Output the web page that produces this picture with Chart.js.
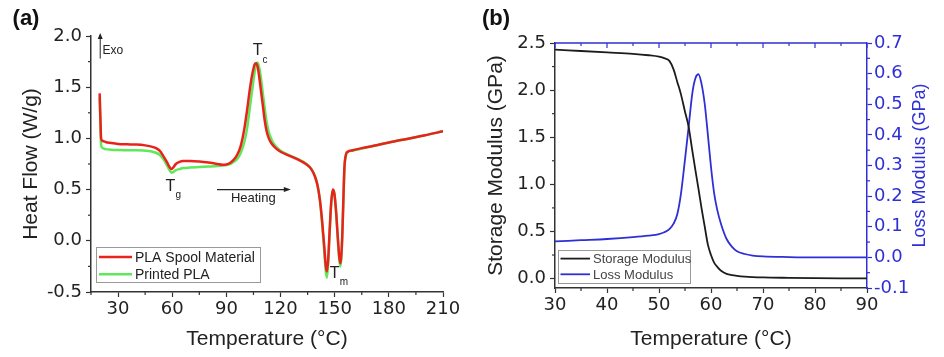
<!DOCTYPE html>
<html>
<head>
<meta charset="utf-8">
<script src="https://cdn.jsdelivr.net/npm/chart.js@4.4.0/dist/chart.umd.min.js"></script>
<style>
  html, body { margin: 0; padding: 0; background: #fff; }
  #painel { position: relative; width: 944px; height: 357px; }
  #caixaA { position: absolute; left: 0; top: 0; width: 470px; height: 357px; }
  #caixaB { position: absolute; left: 470px; top: 0; width: 474px; height: 357px; }
</style>
</head>
<body>
<div id="painel">
  <div id="caixaA"><canvas id="graficoDSC" width="470" height="357"></canvas></div>
  <div id="caixaB"><canvas id="graficoDMA" width="474" height="357"></canvas></div>
</div>
<script>
// ---- dados ----
// (a) DSC
const dscTemp = [19.8, 20.2, 20.6, 21.5, 23, 26, 30, 35, 40, 45, 48, 51, 53, 55, 57, 58.5, 59.6, 60.5, 62, 64, 66, 70, 75, 80, 85, 88, 90, 92, 94, 96, 98, 100, 101.5, 103, 104.5, 105.6, 106.4, 107.3, 108.2, 109.2, 110.2, 111.2, 112.3, 113.5, 115, 117, 120, 125, 130, 134, 137, 139, 140.5, 141.8, 143, 144.2, 145.1, 145.7, 146.4, 147.2, 148.1, 149, 149.9, 150.8, 151.7, 152.5, 153.1, 153.6, 154.2, 154.8, 155.4, 156.2, 157.2, 160, 165, 170, 180, 190, 200, 210];
const spoolFlow = [1.44, 1.2, 1.0, 0.975, 0.965, 0.955, 0.945, 0.942, 0.94, 0.932, 0.922, 0.905, 0.88, 0.83, 0.77, 0.72, 0.70, 0.715, 0.75, 0.77, 0.78, 0.78, 0.775, 0.765, 0.75, 0.742, 0.745, 0.76, 0.79, 0.84, 0.93, 1.1, 1.28, 1.48, 1.64, 1.72, 1.735, 1.70, 1.60, 1.46, 1.32, 1.18, 1.07, 1.0, 0.95, 0.91, 0.87, 0.83, 0.79, 0.75, 0.70, 0.63, 0.54, 0.40, 0.20, -0.05, -0.25, -0.30, -0.18, 0.10, 0.38, 0.50, 0.45, 0.28, 0.04, -0.15, -0.22, -0.16, 0.05, 0.40, 0.72, 0.84, 0.87, 0.885, 0.905, 0.92, 0.96, 0.995, 1.03, 1.07];
const printedFlow = [1.40, 1.15, 0.93, 0.905, 0.895, 0.89, 0.887, 0.885, 0.885, 0.88, 0.875, 0.86, 0.84, 0.80, 0.74, 0.69, 0.665, 0.67, 0.69, 0.70, 0.71, 0.715, 0.72, 0.725, 0.73, 0.735, 0.74, 0.75, 0.77, 0.80, 0.86, 0.97, 1.10, 1.30, 1.50, 1.64, 1.72, 1.74, 1.69, 1.58, 1.44, 1.30, 1.16, 1.06, 0.99, 0.93, 0.88, 0.835, 0.795, 0.755, 0.705, 0.635, 0.54, 0.40, 0.18, -0.10, -0.30, -0.36, -0.22, 0.08, 0.37, 0.50, 0.45, 0.27, 0.02, -0.18, -0.25, -0.18, 0.04, 0.38, 0.70, 0.83, 0.865, 0.88, 0.90, 0.92, 0.96, 0.995, 1.03, 1.07];
const dscXLabels = [30, 60, 90, 120, 150, 180, 210];
const dscYLabels = [-0.5, 0.0, 0.5, 1.0, 1.5, 2.0];

// (b) DMA
const dmaTemp = [30, 35, 40, 45, 48, 50, 51, 52, 52.8, 53.5, 54.2, 55, 55.7, 56.4, 57, 57.6, 58.2, 58.8, 59.4, 60, 60.6, 61.2, 62, 63, 64, 65, 66.5, 68, 70, 75, 80, 85, 90];
const storageMod = [2.43, 2.415, 2.40, 2.385, 2.37, 2.355, 2.34, 2.31, 2.22, 2.09, 1.96, 1.77, 1.61, 1.36, 1.15, 0.95, 0.74, 0.55, 0.36, 0.25, 0.17, 0.125, 0.08, 0.05, 0.037, 0.029, 0.021, 0.016, 0.012, 0.008, 0.005, 0.003, 0.002];
const lossMod = [0.052, 0.056, 0.06, 0.066, 0.071, 0.076, 0.082, 0.092, 0.11, 0.14, 0.205, 0.32, 0.426, 0.535, 0.585, 0.598, 0.565, 0.50, 0.40, 0.295, 0.21, 0.155, 0.105, 0.06, 0.035, 0.02, 0.011, 0.006, 0.003, 0.001, 0.0, 0.0, 0.0];
const dmaXLabels = [30, 40, 50, 60, 70, 80, 90];
const storageLabels = [0.0, 0.5, 1.0, 1.5, 2.0, 2.5];
const lossLabels = [-0.1, 0.0, 0.1, 0.2, 0.3, 0.4, 0.5, 0.6, 0.7];

const FONTE = '"Liberation Sans", Arial, sans-serif';
const FONTE_TICKS = '"DejaVu Sans", sans-serif';
const TEXTO = '#222';
const AZUL = '#2f2fd6';
Chart.defaults.font.family = FONTE;

function rotulo(v, lista, casas) {
    const achado = lista.find(t => Math.abs(t - v) < 1e-6);
    return achado === undefined ? '' : achado.toFixed(casas);
}
function corTick(cor) {
    return c => (c.tick && c.tick.label !== '') ? cor : 'rgba(0,0,0,0)';
}
function pares(xs, ys) {
    return xs.map((x, i) => ({ x: x, y: ys[i] }));
}
const fonteTicks = { family: FONTE_TICKS, size: 18 };

// marcas menores (mais curtas) nos eixos
const marcasMenores = {
    id: 'marcasMenores',
    afterDraw(chart, args, opts) {
        const ctx = chart.ctx;
        Object.values(chart.scales).forEach(s => {
            const cor = opts.cores && opts.cores[s.id];
            if (!cor) return;
            ctx.save();
            ctx.strokeStyle = cor;
            ctx.lineWidth = 1.2;
            s.ticks.forEach(t => {
                if (t.label !== '') return;
                const p = s.getPixelForValue(t.value);
                ctx.beginPath();
                if (s.position === 'bottom') { ctx.moveTo(p, s.top); ctx.lineTo(p, s.top + 3); }
                else if (s.position === 'left') { ctx.moveTo(s.right, p); ctx.lineTo(s.right - 3, p); }
                else { ctx.moveTo(s.left, p); ctx.lineTo(s.left + 3, p); }
                ctx.stroke();
            });
            ctx.restore();
        });
    }
};

// legenda em caixa dentro da area do grafico (canto inferior esquerdo)
function legendaCaixa(cfg) {
    return {
        id: 'legendaCaixa',
        afterDraw(chart) {
            const { ctx, chartArea } = chart;
            const x0 = chartArea.left + cfg.dx;
            const y0 = chartArea.bottom - cfg.dy - cfg.h;
            ctx.save();
            ctx.fillStyle = '#fff';
            ctx.fillRect(x0, y0, cfg.w, cfg.h);
            ctx.strokeStyle = '#999';
            ctx.lineWidth = 1;
            ctx.strokeRect(x0 + 0.5, y0 + 0.5, cfg.w, cfg.h);
            ctx.font = cfg.fonte + 'px ' + FONTE;
            ctx.textBaseline = 'middle';
            chart.data.datasets.forEach((d, i) => {
                const yy = y0 + cfg.linha0 + i * cfg.passo;
                ctx.strokeStyle = d.borderColor;
                ctx.lineWidth = d.borderWidth;
                ctx.beginPath();
                ctx.moveTo(x0 + cfg.l0, yy);
                ctx.lineTo(x0 + cfg.l1, yy);
                ctx.stroke();
                ctx.fillStyle = cfg.corTexto;
                ctx.fillText(d.label, x0 + cfg.tx, yy + 1);
            });
            ctx.restore();
        }
    };
}

function letraPainel(txt) {
    return {
        id: 'letraPainel',
        afterDraw(chart) {
            const ctx = chart.ctx;
            ctx.save();
            ctx.font = 'bold 22px ' + FONTE;
            ctx.fillStyle = '#111';
            ctx.textAlign = 'center';
            ctx.textBaseline = 'middle';
            ctx.fillText(txt, 26, 19);
            ctx.restore();
        }
    };
}

// anotacoes do DSC (posicoes em unidades dos eixos)
const notasDSC = {
    id: 'notasDSC',
    afterDraw(chart) {
        const { ctx, scales: { x, y } } = chart;
        ctx.save();
        ctx.fillStyle = TEXTO;
        ctx.strokeStyle = TEXTO;
        ctx.lineWidth = 1;

        // seta Exo
        const ex = x.getPixelForValue(20.1);
        const eTopo = y.getPixelForValue(2.03);
        ctx.beginPath();
        ctx.moveTo(ex, y.getPixelForValue(1.78));
        ctx.lineTo(ex, eTopo + 3);
        ctx.stroke();
        ctx.beginPath();
        ctx.moveTo(ex, eTopo);
        ctx.lineTo(ex - 2.5, eTopo + 6);
        ctx.lineTo(ex + 2.5, eTopo + 6);
        ctx.closePath();
        ctx.fill();
        ctx.font = '12px ' + FONTE;
        ctx.textBaseline = 'middle';
        ctx.fillText('Exo', x.getPixelForValue(21.4), y.getPixelForValue(1.86));

        // T com subscrito
        const tSub = (sub, tv, hv) => {
            const cx = x.getPixelForValue(tv);
            const cy = y.getPixelForValue(hv);
            ctx.font = '16px ' + FONTE;
            ctx.textAlign = 'center';
            ctx.textBaseline = 'middle';
            ctx.fillText('T', cx, cy);
            ctx.font = '10px ' + FONTE;
            ctx.textAlign = 'left';
            ctx.fillText(sub, cx + 5, cy + 9);
        };
        tSub('c', 107.3, 1.855);
        tSub('g', 59.0, 0.53);
        tSub('m', 150.0, -0.32);

        // seta Heating
        const h0 = x.getPixelForValue(84.8);
        const h1 = x.getPixelForValue(125.7);
        const hy = y.getPixelForValue(0.50);
        ctx.lineWidth = 1.2;
        ctx.beginPath();
        ctx.moveTo(h0, hy);
        ctx.lineTo(h1 - 5, hy);
        ctx.stroke();
        ctx.beginPath();
        ctx.moveTo(h1, hy);
        ctx.lineTo(h1 - 7, hy - 2.5);
        ctx.lineTo(h1 - 7, hy + 2.5);
        ctx.closePath();
        ctx.fill();
        ctx.font = '13px ' + FONTE;
        ctx.textAlign = 'center';
        ctx.fillText('Heating', x.getPixelForValue(104.9), y.getPixelForValue(0.41));
        ctx.restore();
    }
};

// moldura superior azul e titulo do eixo direito do DMA
const extrasDMA = {
    id: 'extrasDMA',
    afterDraw(chart) {
        const { ctx, chartArea, scales: { x } } = chart;
        ctx.save();
        ctx.strokeStyle = AZUL;
        ctx.lineWidth = 1.5;
        ctx.beginPath();
        ctx.moveTo(chartArea.left, chartArea.top);
        ctx.lineTo(chartArea.right, chartArea.top);
        ctx.stroke();
        ctx.lineWidth = 1.2;
        x.ticks.forEach(t => {
            const p = x.getPixelForValue(t.value);
            ctx.beginPath();
            ctx.moveTo(p, chartArea.top);
            ctx.lineTo(p, chartArea.top + (t.label !== '' ? 5 : 3));
            ctx.stroke();
        });
        ctx.translate(chart.width - 24, (chartArea.top + chartArea.bottom) / 2);
        ctx.rotate(-Math.PI / 2);
        ctx.font = '18px ' + FONTE;
        ctx.fillStyle = AZUL;
        ctx.textAlign = 'center';
        ctx.textBaseline = 'middle';
        ctx.fillText('Loss Modulus (GPa)', 0, 0);
        ctx.restore();
    }
};

// ---- grafico (a) ----
const ctxDSC = document.getElementById('graficoDSC').getContext('2d');
const graficoDSC = new Chart(ctxDSC, {
    type: 'line',
    data: {
        datasets: [{
            label: 'PLA Spool Material',
            data: pares(dscTemp, spoolFlow),
            borderColor: '#e8231c',
            borderWidth: 2.5,
            pointRadius: 0,
            cubicInterpolationMode: 'monotone'
        }, {
            label: 'Printed PLA',
            data: pares(dscTemp, printedFlow),
            borderColor: '#5fe85a',
            borderWidth: 2.5,
            pointRadius: 0,
            cubicInterpolationMode: 'monotone'
        }]
    },
    options: {
        responsive: false,
        animation: false,
        layout: { padding: { left: 0, top: 36, right: 27, bottom: 0 } },
        plugins: {
            legend: { display: false },
            tooltip: { enabled: false },
            marcasMenores: { cores: { x: '#333', y: '#333' } }
        },
        scales: {
            x: {
                type: 'linear', min: 15, max: 210,
                afterFit: s => { s.height = 65; },
                grid: { drawOnChartArea: false, tickLength: 5, tickWidth: 1.2, tickColor: corTick('#333') },
                border: { color: '#333', width: 1.5 },
                ticks: { stepSize: 15, autoSkip: false, maxRotation: 0, padding: 2, color: TEXTO, font: fonteTicks,
                    callback: v => rotulo(v, dscXLabels, 0) },
                title: { display: true, text: 'Temperature (°C)', color: TEXTO, font: { size: 21 }, padding: { top: 0, bottom: 5 } }
            },
            y: {
                min: -0.5, max: 2.0,
                afterFit: s => { s.width = 91; },
                grid: { drawOnChartArea: false, tickLength: 5, tickWidth: 1.2, tickColor: corTick('#333') },
                border: { color: '#333', width: 1.5 },
                ticks: { stepSize: 0.25, autoSkip: false, padding: 4, color: TEXTO, font: fonteTicks,
                    callback: v => rotulo(v, dscYLabels, 1) },
                title: { display: true, text: 'Heat Flow (W/g)', color: TEXTO, font: { size: 21 }, padding: { top: 19, bottom: 0 } }
            }
        }
    },
    plugins: [marcasMenores, notasDSC, letraPainel('(a)'), legendaCaixa({
        dx: 5, dy: 10, w: 164, h: 35, l0: 3, l1: 36, tx: 39, linha0: 10, passo: 17.3, fonte: 14, corTexto: TEXTO
    })]
});

// ---- grafico (b) ----
const ctxDMA = document.getElementById('graficoDMA').getContext('2d');
const graficoDMA = new Chart(ctxDMA, {
    type: 'line',
    data: {
        datasets: [{
            label: 'Storage Modulus',
            data: pares(dmaTemp, storageMod),
            borderColor: '#1c1c1c',
            borderWidth: 1.8,
            pointRadius: 0,
            cubicInterpolationMode: 'monotone',
            yAxisID: 'y'
        }, {
            label: 'Loss Modulus',
            data: pares(dmaTemp, lossMod),
            borderColor: AZUL,
            borderWidth: 1.8,
            pointRadius: 0,
            cubicInterpolationMode: 'monotone',
            yAxisID: 'y1'
        }]
    },
    options: {
        responsive: false,
        animation: false,
        layout: { padding: { left: 0, top: 43, right: 0, bottom: 0 } },
        plugins: {
            legend: { display: false },
            tooltip: { enabled: false },
            marcasMenores: { cores: { x: '#333', y: '#333', y1: AZUL } }
        },
        scales: {
            x: {
                type: 'linear', min: 30, max: 90,
                afterFit: s => { s.height = 69; },
                grid: { drawOnChartArea: false, tickLength: 5, tickWidth: 1.2, tickColor: corTick('#333') },
                border: { color: '#333', width: 1.5 },
                ticks: { stepSize: 5, autoSkip: false, maxRotation: 0, padding: 2, color: TEXTO, font: fonteTicks,
                    callback: v => rotulo(v, dmaXLabels, 0) },
                title: { display: true, text: 'Temperature (°C)', color: TEXTO, font: { size: 21 }, padding: { top: 0, bottom: 5 } }
            },
            y: {
                position: 'left', min: -0.1, max: 2.5,
                afterFit: s => { s.width = 85; },
                grid: { drawOnChartArea: false, tickLength: 5, tickWidth: 1.2, tickColor: corTick('#333') },
                border: { color: '#333', width: 1.5 },
                ticks: { stepSize: 0.25, includeBounds: false, autoSkip: false, padding: 4, color: TEXTO, font: fonteTicks,
                    callback: v => rotulo(v, storageLabels, 1) },
                title: { display: true, text: 'Storage Modulus (GPa)', color: TEXTO, font: { size: 21 }, padding: { top: 14, bottom: 0 } }
            },
            y1: {
                position: 'right', min: -0.1, max: 0.7,
                afterFit: s => { s.width = 77; },
                grid: { drawOnChartArea: false, tickLength: 5, tickWidth: 1.2, tickColor: corTick(AZUL) },
                border: { color: AZUL, width: 1.5 },
                ticks: { stepSize: 0.05, autoSkip: false, padding: 2, color: AZUL, font: fonteTicks,
                    callback: v => rotulo(v, lossLabels, 1) }
            }
        }
    },
    plugins: [marcasMenores, extrasDMA, letraPainel('(b)'), legendaCaixa({
        dx: 3, dy: 5, w: 132, h: 33, l0: 2.5, l1: 32, tx: 35, linha0: 8.6, passo: 15.7, fonte: 13, corTexto: '#444'
    })]
});
</script>
</body>
</html>
